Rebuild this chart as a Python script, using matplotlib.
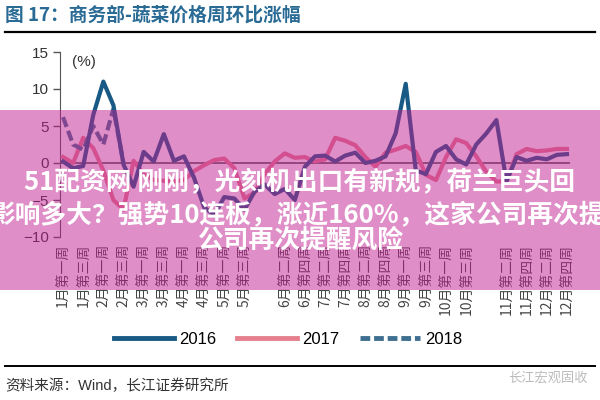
import numpy as np
import matplotlib
matplotlib.use('Agg')
import matplotlib.pyplot as plt
from matplotlib.patches import Rectangle
from matplotlib.lines import Line2D

plt.rcParams['font.family'] = ['Liberation Sans', 'Noto Sans CJK SC']

# weekly change, %
y2016 = [0.2, -0.7, -0.4, 6.5, 11.0, 7.8, -0.2, -3.2, 1.5, 0.2, 3.9, 0.3, 0.9, -2.0, -6.0, -7.0, -4.6,
         -4.8, -6.3, -3.9, -2.9, -4.2, -3.5, -5.0, -0.5, 0.9, 1.0, 0.2, 1.0, 1.4, 0.0, 0.3, 0.9, 4.0,
         10.7, -1.0, -1.5, 1.5, 2.3, 0.5, -0.2, 2.5, 4.0, 5.8, -2.5, 0.8, 0.3, 0.7, 0.5, 1.1, 1.2]
y2017 = [0.8, 0.0, 3.4, 2.0, -1.0, -5.0, -6.3, 0.3, -1.5, -2.3, -2.4, -2.5, -2.3, -1.1, -0.3, 0.4, 0.6,
         -0.7, -4.8, -4.0, -1.5, 0.2, 1.3, 0.7, 0.8, 0.2, 0.5, 3.4, 3.0, 2.4, 0.8, -0.5, 1.4, 1.8,
         2.3, 1.5, -1.6, -2.3, 0.8, 3.2, 2.7, 0.9, -1.2, -2.5, -2.5, 1.2, 1.9, 1.6, 1.7, 1.9, 1.9]
y2018 = [6.2, 2.5, 1.8, 5.0, 2.5, 7.3, 0.0]

tick_pos = list(range(0, 20, 2)) + list(range(22, 42, 2)) + list(range(44, 52, 2))
tick_labels = ['1月第一周', '1月第三周', '2月第一周', '2月第三周', '3月第一周', '3月第三周',
               '4月第一周', '4月第三周', '5月第一周', '5月第三周', '6月第二周', '6月第四周',
               '7月第二周', '7月第四周', '8月第二周', '8月第四周', '9月第一周', '9月第三周',
               '10月第一周', '10月第三周', '11月第二周', '11月第四周', '12月第二周', '12月第四周']

c16 = '#185a85'
c17 = '#e6808e'
c18 = '#3f6f90'

fig = plt.figure(figsize=(6, 4), dpi=100)
ax = fig.add_axes([0.1, 0.4075, 0.85, 0.4625])

ax.plot(np.arange(len(y2016)), y2016, color=c16, lw=3, zorder=4)
ax.plot(np.arange(len(y2017)), y2017, color=c17, lw=3, zorder=3)
ax.plot(np.arange(len(y2018)), y2018, color=c18, lw=3, dashes=(2.5, 1), zorder=3)
ax.axhline(0, color='#555555', lw=1.2, zorder=2)

ax.set_xlim(-0.3, 50.3)
ax.set_ylim(-10, 15)
ax.set_yticks([-10, -5, 0, 5, 10, 15])
ax.set_xticks(tick_pos)
ax.set_xticklabels(tick_labels, rotation=90, fontsize=10, color='#444444', family=['Noto Sans CJK SC'])
ax.tick_params(axis='x', length=0, pad=5)
ax.tick_params(axis='y', length=5, width=1, color='#555555', labelsize=11, labelcolor='#333333', pad=3)
for s in ['top', 'right', 'bottom']:
    ax.spines[s].set_visible(False)
ax.spines['left'].set_color('#555555')
ax.text(0.024, 0.946, '(%)', transform=ax.transAxes, fontsize=11, color='#333333', va='center')

# header / footer
fig.text(5 / 600, 1 - 15 / 400, '图 17：商务部-蔬菜价格周环比涨幅', fontsize=13.5, color='#2a6b96',
         weight='bold', va='center', family=['Noto Sans CJK SC'])
fig.add_artist(Line2D([5 / 600, 595 / 600], [1 - 32 / 400, 1 - 32 / 400], color='black', lw=1.6))
fig.add_artist(Line2D([5 / 600, 595 / 600], [1 - 366 / 400, 1 - 366 / 400], color='black', lw=1.4))
fig.text(5 / 600, 1 - 386 / 400, '资料来源：Wind，长江证券研究所', fontsize=10.5, color='#333333',
         va='center')
fig.text(588 / 600, 1 - 378 / 400, '长江宏观固收', fontsize=9.5, color='#bbbbbb', va='center', ha='right',
         family=['Noto Sans CJK SC'])

handles = [Line2D([], [], color=c16, lw=3.5),
           Line2D([], [], color=c17, lw=3.5),
           Line2D([], [], color=c18, lw=3.5, dashes=(2, 0.8))]
fig.legend(handles, ['2016', '2017', '2018'], loc='center', bbox_to_anchor=(288 / 600, 1 - 339 / 400),
           ncol=3, frameon=False, fontsize=12, handlelength=3.6, handletextpad=0.3, columnspacing=1.25)

# pink banner on top
fig.patches.append(Rectangle((0, 1 - 290 / 400), 1, 180 / 400, transform=fig.transFigure,
                             facecolor='#c11f91', alpha=0.5, edgecolor='none', zorder=5))
kw = dict(color='white', weight='bold', family=['Noto Sans CJK SC'], fontsize=18.5, va='center', zorder=6)
fig.text(0.5, 1 - 182 / 400, '51配资网 刚刚，光刻机出口有新规，荷兰巨头回', ha='center', **kw)
fig.text(-10 / 600, 1 - 215 / 400, '影响多大？强势10连板，涨近160%，这家公司再次提醒', ha='left', **kw)
fig.text(0.5, 1 - 240 / 400, '公司再次提醒风险', ha='center', **kw)

fig.savefig('out.png', dpi=100)
